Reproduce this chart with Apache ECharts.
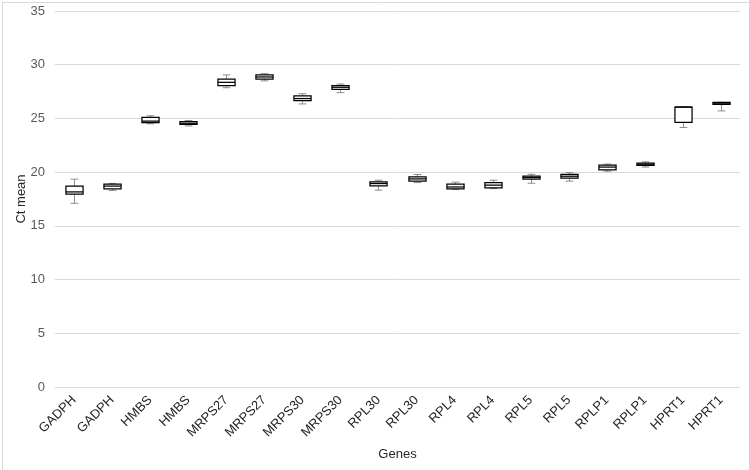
<!DOCTYPE html>
<html>
<head>
<meta charset="utf-8">
<script src="https://cdn.jsdelivr.net/npm/echarts@6/dist/echarts.min.js"></script>
<style>
html,body{margin:0;padding:0;background:#fff;}
#c{width:749px;height:470px;}
</style>
</head>
<body>
<div id="c"></div>
<script>
const categories = ["GADPH","GADPH","HMBS","HMBS","MRPS27","MRPS27","MRPS30","MRPS30","RPL30","RPL30","RPL4","RPL4","RPL5","RPL5","RPLP1","RPLP1","HPRT1","HPRT1"];
const whiskerMin = [17.1, 18.3, 24.5, 24.3, 27.86, 28.5, 26.35, 27.4, 18.32, 19.03, 18.38, 18.47, 18.97, 19.16, 20.09, 20.47, 24.16, 25.7];
const q1 =         [17.95, 18.44, 24.6, 24.45, 28.05, 28.67, 26.65, 27.7, 18.72, 19.16, 18.44, 18.54, 19.35, 19.44, 20.21, 20.62, 24.63, 26.3];
const median =     [18.16, 18.7, 24.75, 24.55, 28.36, 28.86, 26.85, 27.9, 18.94, 19.37, 18.62, 18.79, 19.5, 19.62, 20.47, 20.74, 26.06, 26.42];
const q3 =         [18.7, 18.88, 25.1, 24.7, 28.67, 29.05, 27.1, 28.05, 19.1, 19.56, 18.88, 19.03, 19.62, 19.8, 20.65, 20.84, 26.06, 26.5];
const whiskerMax = [19.35, 18.95, 25.25, 24.8, 29.05, 29.17, 27.3, 28.2, 19.25, 19.78, 19.07, 19.25, 19.8, 19.96, 20.75, 20.96, 26.06, 26.5];
const yTicks = [0, 5, 10, 15, 20, 25, 30, 35];

const data = categories.map((c, i) => [i, whiskerMin[i], q1[i], median[i], q3[i], whiskerMax[i]]);

const chart = echarts.init(document.getElementById('c'), null, {renderer: 'canvas'});
chart.setOption({
  animation: false,
  backgroundColor: '#fff',
  graphic: [{
    type: 'rect', left: 0, top: 0, silent: true, z: -10,
    shape: {x: 0.5, y: 0.5, width: 748, height: 469},
    style: {fill: 'none', stroke: '#d9d9d9', lineWidth: 1}
  }],
  grid: {left: 55, right: 9, top: 11, bottom: 83},
  xAxis: {
    type: 'category',
    data: categories,
    name: 'Genes',
    nameLocation: 'middle',
    nameGap: 61,
    nameMoveOverlap: false,
    nameTextStyle: {fontFamily: 'Liberation Sans, Arial', fontSize: 13, color: '#262626'},
    axisLine: {show: true, lineStyle: {color: '#d9d9d9', width: 1}},
    axisTick: {show: false},
    axisLabel: {rotate: 45, interval: 0, fontFamily: 'Liberation Sans, Arial', fontSize: 13, color: '#262626', margin: 11}
  },
  yAxis: {
    type: 'value',
    min: 0, max: 35, interval: 5,
    name: 'Ct mean',
    nameLocation: 'middle',
    nameGap: 27,
    nameMoveOverlap: false,
    nameTextStyle: {fontFamily: 'Liberation Sans, Arial', fontSize: 13, color: '#262626'},
    axisLine: {show: false},
    axisTick: {show: false},
    splitLine: {lineStyle: {color: '#d9d9d9', width: 1}},
    axisLabel: {fontFamily: 'Liberation Sans, Arial', fontSize: 13, color: '#595959', margin: 10,
      formatter: v => yTicks.indexOf(v) >= 0 ? String(v) : ''}
  },
  series: [{
    type: 'custom',
    data: data,
    encode: {x: 0, y: [1, 2, 3, 4, 5]},
    renderItem: function (params, api) {
      const idx = api.value(0);
      const bw = api.size([1, 0])[0] * 0.45;
      const cw = bw * 0.45;
      const pMin = api.coord([idx, api.value(1)]);
      const pQ1 = api.coord([idx, api.value(2)]);
      const pMed = api.coord([idx, api.value(3)]);
      const pQ3 = api.coord([idx, api.value(4)]);
      const pMax = api.coord([idx, api.value(5)]);
      const x = Math.round(pQ1[0]) + 0.5;
      const wStyle = {stroke: '#8c8c8c', lineWidth: 1};
      return {
        type: 'group',
        children: [
          {type: 'line', shape: {x1: x, y1: pMax[1], x2: x, y2: pQ3[1]}, style: wStyle},
          {type: 'line', shape: {x1: x, y1: pMin[1], x2: x, y2: pQ1[1]}, style: wStyle},
          {type: 'line', shape: {x1: x - cw / 2, y1: pMax[1], x2: x + cw / 2, y2: pMax[1]}, style: wStyle},
          {type: 'line', shape: {x1: x - cw / 2, y1: pMin[1], x2: x + cw / 2, y2: pMin[1]}, style: wStyle},
          {type: 'rect', shape: {x: x - bw / 2, y: pQ3[1], width: bw, height: pQ1[1] - pQ3[1]},
            style: {fill: '#ffffff', stroke: '#000000', lineWidth: 1.25}},
          {type: 'line', shape: {x1: x - bw / 2, y1: pMed[1], x2: x + bw / 2, y2: pMed[1]},
            style: {stroke: '#000000', lineWidth: 1.25}}
        ]
      };
    }
  }]
});
</script>
</body>
</html>
